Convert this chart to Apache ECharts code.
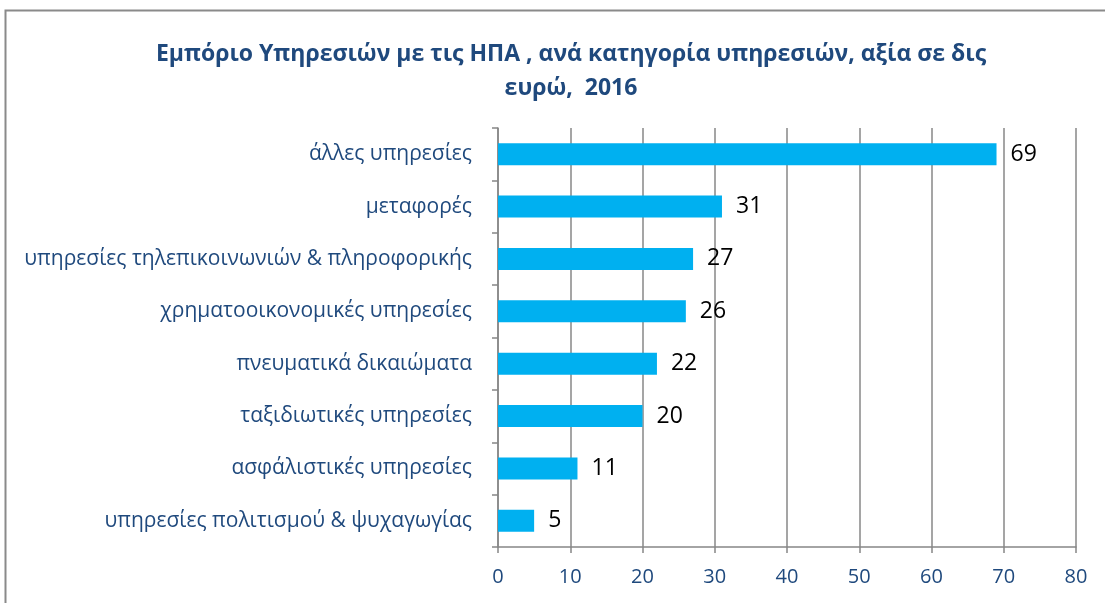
<!DOCTYPE html>
<html>
<head>
<meta charset="utf-8">
<script src="https://cdn.jsdelivr.net/npm/echarts@6/dist/echarts.min.js"></script>
<style>
  html, body { margin: 0; padding: 0; background: #fff; }
  #chart { width: 1105px; height: 603px; }
</style>
</head>
<body>
<div id="chart"></div>
<script>
var categories = [
  'άλλες υπηρεσίες',
  'μεταφορές',
  'υπηρεσίες τηλεπικοινωνιών & πληροφορικής',
  'χρηματοοικονομικές υπηρεσίες',
  'πνευματικά δικαιώματα',
  'ταξιδιωτικές υπηρεσίες',
  'ασφάλιστικές υπηρεσίες',
  'υπηρεσίες πολιτισμού & ψυχαγωγίας'
];
var values = [69, 31, 27, 26, 22, 20, 11, 5];
var titleLines = ['Εμπόριο Υπηρεσιών με τις ΗΠΑ , ανά κατηγορία υπηρεσιών, αξία σε δις', 'ευρώ,  2016'];

var chart = echarts.init(document.getElementById('chart'));
var option = {
  animation: false,
  textStyle: { fontFamily: 'Open Sans' },
  title: {
    text: titleLines.join('\n'),
    left: 566,
    top: 32,
    textAlign: 'center',
    textStyle: { color: '#1F497D', fontSize: 23, fontWeight: 'bold', lineHeight: 34, fontFamily: 'Open Sans' }
  },
  graphic: [{
    type: 'rect',
    shape: { x: 5.5, y: 10.5, width: 1120, height: 620 },
    style: { fill: null, stroke: '#8a8a8a', lineWidth: 2 },
    silent: true
  }],
  grid: { left: 498, right: 29, top: 128, bottom: 56 },
  xAxis: {
    type: 'value',
    min: 0,
    max: 80,
    interval: 10,
    axisLine: { show: true, lineStyle: { color: '#878787', width: 1.5 } },
    axisTick: { show: true, length: 6, lineStyle: { color: '#878787', width: 1.5 } },
    axisLabel: { color: '#1F497D', fontSize: 20, margin: 20 },
    splitLine: { show: true, lineStyle: { color: '#878787', width: 1.5 } }
  },
  yAxis: {
    type: 'category',
    inverse: true,
    data: categories,
    axisLine: { show: true, lineStyle: { color: '#878787', width: 1.5 } },
    axisTick: { show: true, length: 6, lineStyle: { color: '#878787', width: 1.5 } },
    axisLabel: { color: '#1F497D', fontSize: 21, margin: 26 }
  },
  series: [{
    type: 'bar',
    data: values,
    barWidth: 22,
    itemStyle: { color: '#00B0F0' },
    label: {
      show: true,
      position: 'right',
      distance: 14,
      color: '#000',
      fontSize: 23
    }
  }]
};
chart.setOption(option);
</script>
</body>
</html>
